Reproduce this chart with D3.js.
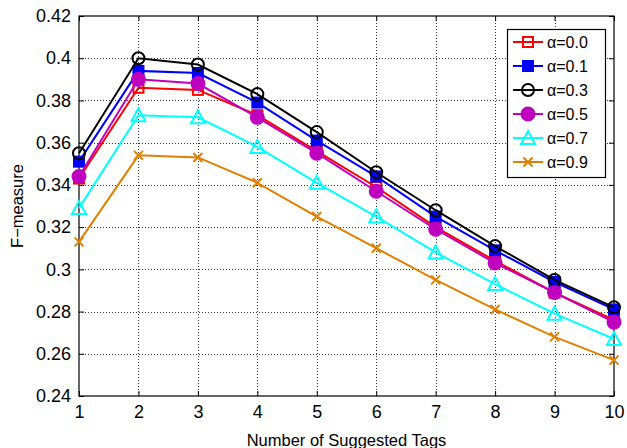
<!DOCTYPE html>
<html>
<head>
<meta charset="utf-8">
<script src="https://cdn.jsdelivr.net/npm/d3@7"></script>
<style>
  body { margin: 0; background: #fff; }
  text { font-family: "Liberation Sans", Arial, sans-serif; }
</style>
</head>
<body>
<svg width="627" height="448"></svg>
<script>
var tags = [1, 2, 3, 4, 5, 6, 7, 8, 9, 10];
var yTicks = [0.24, 0.26, 0.28, 0.3, 0.32, 0.34, 0.36, 0.38, 0.4, 0.42];
var alphas = ['α=0.0', 'α=0.1', 'α=0.3', 'α=0.5', 'α=0.7', 'α=0.9'];

var a00 = [0.343, 0.386, 0.385, 0.373, 0.356, 0.339, 0.320, 0.304, 0.289, 0.276];
var a01 = [0.351, 0.394, 0.393, 0.379, 0.361, 0.344, 0.325, 0.309, 0.294, 0.281];
var a03 = [0.355, 0.400, 0.397, 0.383, 0.365, 0.346, 0.328, 0.311, 0.295, 0.282];
var a05 = [0.344, 0.390, 0.388, 0.372, 0.355, 0.337, 0.319, 0.303, 0.289, 0.275];
var a07 = [0.329, 0.373, 0.372, 0.358, 0.341, 0.325, 0.308, 0.293, 0.279, 0.267];
var a09 = [0.313, 0.354, 0.353, 0.341, 0.325, 0.310, 0.295, 0.281, 0.268, 0.257];

var series = [
    {name: alphas[0], values: a00, color: '#ff0000', marker: 'square', fill: false},
    {name: alphas[1], values: a01, color: '#0000ff', marker: 'square', fill: true},
    {name: alphas[2], values: a03, color: '#000000', marker: 'circle', fill: false},
    {name: alphas[3], values: a05, color: '#bf00bf', marker: 'circle', fill: true},
    {name: alphas[4], values: a07, color: '#00ffff', marker: 'triangle', fill: false},
    {name: alphas[5], values: a09, color: '#e08000', marker: 'cross', fill: false}
];

var svg = d3.select('svg'),
    margin = {left: 79, right: 13, top: 16, bottom: 52},
    width = +svg.attr('width'),
    height = +svg.attr('height');

var x = d3.scaleLinear().domain([1, 10]).range([margin.left, width - margin.right]);
var y = d3.scaleLinear().domain([0.24, 0.42]).range([height - margin.bottom, margin.top]);

// grid
var grid = svg.append('g').attr('stroke', '#333').attr('stroke-width', 1)
    .attr('stroke-dasharray', '1,2');
grid.selectAll('.gx').data(tags.slice(1, -1)).enter().append('line')
    .attr('x1', (d) => Math.round(x(d)) + 0.5).attr('x2', (d) => Math.round(x(d)) + 0.5)
    .attr('y1', y(0.24)).attr('y2', y(0.42));
grid.selectAll('.gy').data(yTicks.slice(1, -1)).enter().append('line')
    .attr('y1', (d) => Math.round(y(d)) + 0.5).attr('y2', (d) => Math.round(y(d)) + 0.5)
    .attr('x1', x(1)).attr('x2', x(10));

// axes (ticks inward, box)
function styleAxis(g) {
    g.attr('font-size', null).attr('font-family', null);
    g.select('.domain').remove();
    g.selectAll('.tick line').attr('stroke', '#000');
    g.selectAll('text').style('font-size', '18px').attr('fill', '#000');
}
svg.append('g').attr('transform', 'translate(0,' + y(0.24) + ')')
    .call(d3.axisBottom(x).tickValues(tags).tickSize(-5).tickPadding(9).tickFormat(d3.format('d')))
    .call(styleAxis);
svg.append('g').attr('transform', 'translate(0,' + y(0.42) + ')')
    .call(d3.axisTop(x).tickValues(tags).tickSize(-5).tickFormat(''))
    .call(styleAxis);
svg.append('g').attr('transform', 'translate(' + x(1) + ',0)')
    .call(d3.axisLeft(y).tickValues(yTicks).tickSize(-5).tickPadding(8).tickFormat((d) => String(+d.toFixed(2))))
    .call(styleAxis);
svg.append('g').attr('transform', 'translate(' + x(10) + ',0)')
    .call(d3.axisRight(y).tickValues(yTicks).tickSize(-5).tickFormat(''))
    .call(styleAxis);

svg.append('rect')
    .attr('x', x(1)).attr('y', y(0.42))
    .attr('width', x(10) - x(1)).attr('height', y(0.24) - y(0.42))
    .attr('fill', 'none').attr('stroke', '#000').attr('stroke-width', 1.2);

// labels
svg.append('text').attr('x', (x(1) + x(10)) / 2).attr('y', 446)
    .attr('text-anchor', 'middle').style('font-size', '16.5px').text('Number of Suggested Tags');
svg.append('text').attr('transform', 'translate(23,' + ((y(0.24) + y(0.42)) / 2) + ') rotate(-90)')
    .attr('text-anchor', 'middle').style('font-size', '16.5px').text('F\u2212measure');

function drawMarker(g, s, cx, cy) {
    var fill = s.fill ? s.color : 'none';
    if (s.marker === 'square') {
        g.append('rect').attr('x', cx - 5).attr('y', cy - 5).attr('width', 10).attr('height', 10)
            .attr('fill', fill).attr('stroke', s.color).attr('stroke-width', 2);
    } else if (s.marker === 'circle') {
        g.append('circle').attr('cx', cx).attr('cy', cy).attr('r', s.fill ? 6.5 : 6)
            .attr('fill', fill).attr('stroke', s.color).attr('stroke-width', 2);
    } else if (s.marker === 'triangle') {
        g.append('path').attr('d', 'M' + cx + ',' + (cy - 7) + 'L' + (cx + 7) + ',' + (cy + 6) + 'L' + (cx - 7) + ',' + (cy + 6) + 'Z')
            .attr('fill', 'none').attr('stroke', s.color).attr('stroke-width', 2);
    } else {
        g.append('path').attr('d', 'M' + (cx - 4.5) + ',' + (cy - 4.5) + 'L' + (cx + 4.5) + ',' + (cy + 4.5) +
            'M' + (cx - 4.5) + ',' + (cy + 4.5) + 'L' + (cx + 4.5) + ',' + (cy - 4.5))
            .attr('stroke', s.color).attr('stroke-width', 2);
    }
}

var line = d3.line().x((d, i) => x(tags[i])).y((d) => y(d));

series.forEach((s) => {
    var g = svg.append('g');
    g.append('path').datum(s.values).attr('d', line)
        .attr('fill', 'none').attr('stroke', s.color).attr('stroke-width', 2);
    s.values.forEach((v, i) => drawMarker(g, s, x(tags[i]), y(v)));
});

// legend
var lg = svg.append('g');
lg.append('rect').attr('x', 507.5).attr('y', 29.5).attr('width', 98).attr('height', 148)
    .attr('fill', '#fff').attr('stroke', '#000').attr('stroke-width', 1.2);
series.forEach((s, i) => {
    var cy = 42 + i * 24;
    lg.append('line').attr('x1', 513).attr('x2', 543).attr('y1', cy).attr('y2', cy)
        .attr('stroke', s.color).attr('stroke-width', 2);
    drawMarker(lg, s, 528, cy);
    lg.append('text').attr('x', 547).attr('y', cy + 5.5).style('font-size', '16px').text(s.name);
});
</script>
</body>
</html>
